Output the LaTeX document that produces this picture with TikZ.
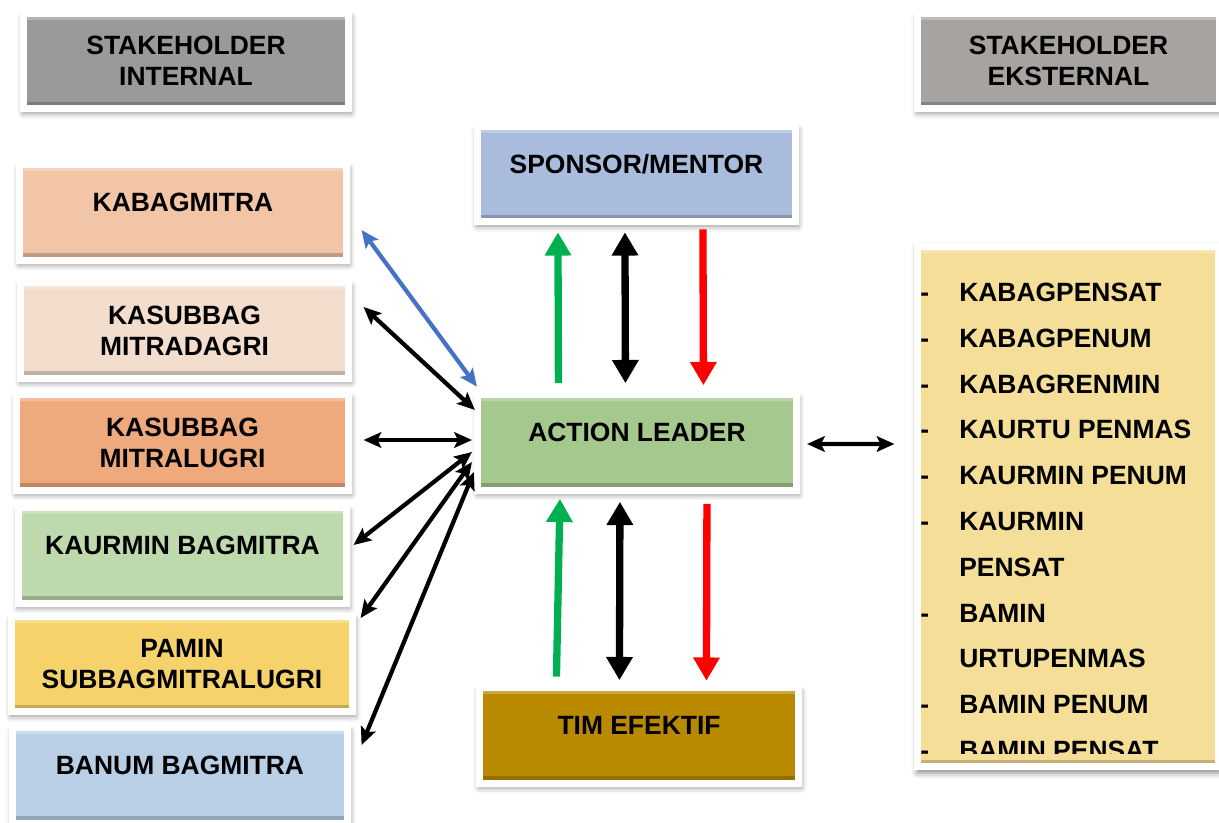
\documentclass[tikz,border=0pt]{standalone}
\usepackage{fontspec}
\setmainfont{Liberation Sans}
\usetikzlibrary{arrows.meta,calc,shadows.blur}
\definecolor{abuin}{HTML}{9A9A9A}
\definecolor{abueks}{HTML}{A7A3A1}
\definecolor{peach}{HTML}{F2C5A7}
\definecolor{krem}{HTML}{F3DDCD}
\definecolor{oranye}{HTML}{EEA97C}
\definecolor{hijaumuda}{HTML}{BED9AB}
\definecolor{kuning}{HTML}{F6D26B}
\definecolor{birumuda}{HTML}{B8CFE6}
\definecolor{biruspon}{HTML}{A9BCDD}
\definecolor{hijauak}{HTML}{A5C88C}
\definecolor{emas}{HTML}{B98A00}
\definecolor{kuningtua}{HTML}{F5DE98}
\definecolor{panahbiru}{HTML}{4472C4}
\definecolor{panahhijau}{HTML}{00B050}

\begin{document}
\begin{tikzpicture}[x=0.025cm,y=-0.025cm,
  teks/.style={font=\bfseries\fontsize{18.8}{22}\selectfont,inner sep=0pt},
  kotak/.style={teks,draw=white,line width=5pt,fill=#1,minimum width=8.2cm,minimum height=2.39cm,align=center,
    blur shadow={shadow xshift=.8pt,shadow yshift=-2.8pt,shadow blur radius=4pt,shadow opacity=45,shadow scale=1.01},
    path picture={\fill[black,opacity=.2] ([yshift=2.5pt]path picture bounding box.south west) rectangle ([yshift=5pt]path picture bounding box.south east);
      \fill[white,opacity=.25] ([yshift=-2.5pt]path picture bounding box.north west) rectangle ([yshift=-4.5pt]path picture bounding box.north east);}},
  satu/.style={text depth=15pt},
  panah/.style={line width=3pt,{Stealth[length=12.5pt,width=11pt,inset=2.5pt]}-{Stealth[length=12.5pt,width=11pt,inset=2.5pt]}},
  tebal/.style={line width=5.2pt},
  >={Triangle[length=16.5pt,width=18pt]}]
  \useasboundingbox (0,0) rectangle (1219,823);
  % kepala kolom
  \node[kotak=abuin,minimum width=8.125cm] (intern) at (186,61) {STAKEHOLDER\\INTERNAL};
  \node[kotak=abueks,minimum width=7.55cm] (ekstern) at (1068.5,61) {STAKEHOLDER\\EKSTERNAL};
  % stakeholder internal
  \node[kotak=peach,satu,minimum width=8.175cm] (kabag) at (183,212.5) {KABAGMITRA};
  \node[kotak=krem] (dagri) at (184.5,330.5) {KASUBBAG\\MITRADAGRI};
  \node[kotak=oranye,minimum width=8.3cm] (lugri) at (182.5,442.5) {KASUBBAG\\MITRALUGRI};
  \node[kotak=hijaumuda,satu] (urmin) at (182.5,555.5) {KAURMIN BAGMITRA};
  \node[kotak=kuning,minimum width=8.525cm] (pamin) at (182,664) {PAMIN\\SUBBAGMITRALUGRI};
  \node[kotak=birumuda,satu,minimum width=8.375cm] (banum) at (180,775.5) {BANUM BAGMITRA};
  % tengah
  \node[kotak=biruspon,satu,minimum width=7.95cm] (spon) at (636.5,174) {SPONSOR/MENTOR};
  \node[kotak=hijauak,satu,minimum width=7.95cm] (aksi) at (637,442.5) {ACTION LEADER};
  \node[kotak=emas,satu,minimum width=7.975cm] (tim) at (639,735.5) {TIM EFEKTIF};
  % stakeholder eksternal
  \node[kotak=kuningtua,minimum width=7.525cm,minimum height=13cm] (daftar) at (1068,506.5) {};
  \begin{scope}
    \clip (921,250) rectangle (1215,753);
    \foreach \tanda/\nama [count=\i] in {-/KABAGPENSAT,-/KABAGPENUM,-/KABAGRENMIN,-/KAURTU PENMAS,-/KAURMIN PENUM,-/KAURMIN,{}/PENSAT,-/BAMIN,{}/URTUPENMAS,-/BAMIN PENUM,-/BAMIN PENSAT}{
      \node[teks,anchor=base west] (s\i) at (920,{301.5+45.8*(\i-1)}) {\tanda};
      \node[teks,anchor=base west] (e\i) at (959,{301.5+45.8*(\i-1)}) {\nama};}
  \end{scope}
  % panah atas
  \draw[tebal,->,panahhijau] ($(aksi.north west)+(84,-8)$) -- ($(spon.south west)+(84,7)$);
  \draw[tebal,<->] ($(aksi.north west)+(151,-8)$) -- ($(spon.south west)+(151,7)$);
  \draw[tebal,->,red] ($(spon.south west)+(229,4)$) -- ($(aksi.north west)+(229,-6)$);
  % panah bawah
  \draw[tebal,->,panahhijau] ($(tim.north west)+(80.5,-7.5)$) -- ($(aksi.south west)+(85.5,5)$);
  \draw[tebal,<->] ($(aksi.south west)+(145.5,8)$) -- ($(tim.north west)+(143.5,-4)$);
  \draw[tebal,->,red] ($(aksi.south west)+(232.5,10)$) -- ($(tim.north west)+(230.5,-3.5)$);
  % panah kiri
  \draw[panah,panahbiru] ($(kabag.east)+(11.5,17.5)$) -- ($(aksi.north west)+(2.5,-4.5)$);
  \draw[panah] ($(dagri.east)+(11.5,-23.5)$) -- ($(aksi.west)+(0.5,-32.5)$);
  \draw[panah] ($(lugri.east)+(11.5,-2.5)$) -- ($(aksi.west)+(-2.5,-2.5)$);
  \draw[panah] ($(urmin.east)+(3.5,-10.5)$) -- ($(aksi.west)+(-2.5,9.5)$);
  \draw[panah] ($(pamin.east)+(4.5,-46)$) -- ($(aksi.west)+(-2.5,19.5)$);
  \draw[panah] ($(banum.east)+(10.5,-30.5)$) -- ($(aksi.west)+(-0.5,29.5)$);
  % panah kanan
  \draw[panah] ($(aksi.east)+(7.5,1.5)$) -- ($(daftar.west)+(-19.5,-62.5)$);
\end{tikzpicture}
\end{document}
